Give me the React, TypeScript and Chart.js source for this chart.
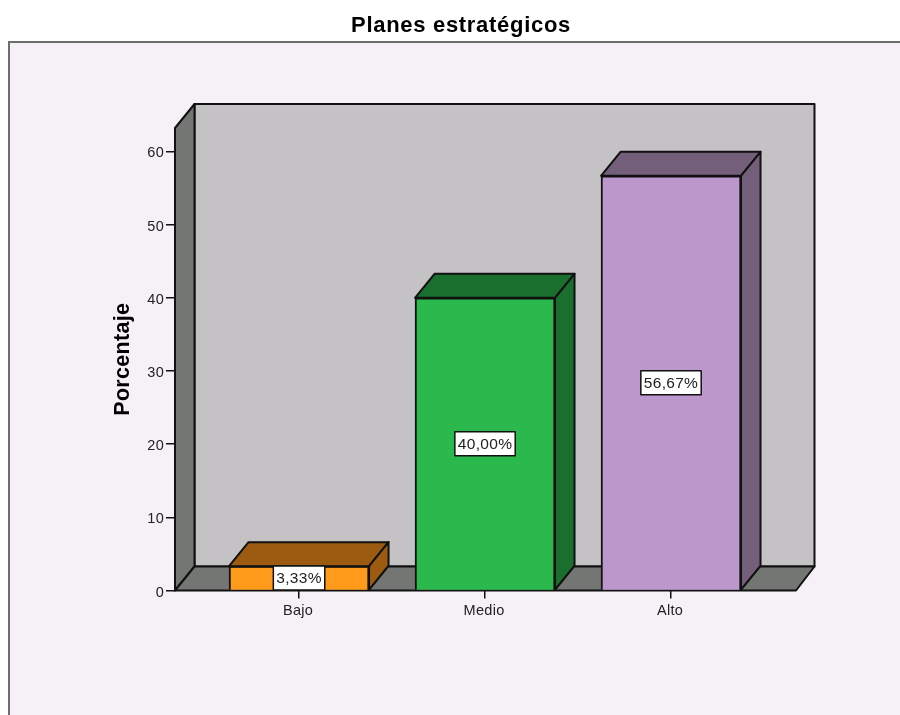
import React, { useEffect, useRef } from "react";
import { Chart, registerables } from "chart.js";

Chart.register(...registerables);

const categories = ["Bajo", "Medio", "Alto"];
const percentages = [3.33, 40.0, 56.67];
const yTicks = [0, 10, 20, 30, 40, 50, 60];
const frontColors = ["#ff9a1a", "#2bb84d", "#bc97cc"];
const shadeColors = ["#9c5b10", "#1a6e2e", "#735f7a"];

const PAGE_BG = "#f5f1f6";
const WALL_BACK = "#c4c2c5";
const WALL_SIDE = "#747673";
const LINE = "#111111";
const TEXT = "#222222";
const FONT = "'Liberation Sans', Arial, sans-serif";
const DEPTH_X = 19.5;
const DEPTH_Y = 24;

function face(ctx: CanvasRenderingContext2D, pts: number[][], fill: string) {
  ctx.beginPath();
  pts.forEach(([x, y], i) => (i ? ctx.lineTo(x, y) : ctx.moveTo(x, y)));
  ctx.closePath();
  ctx.fillStyle = fill;
  ctx.fill();
  ctx.lineJoin = "round";
  ctx.lineWidth = 2;
  ctx.strokeStyle = LINE;
  ctx.stroke();
}

// Runs one of a layout box's draw methods with wider letter spacing.
function spaced(ctx: any, box: any, method: string, spacing: string) {
  const original = box[method];
  box[method] = function (...args: any[]) {
    ctx.save();
    ctx.letterSpacing = spacing;
    original.apply(box, args);
    ctx.restore();
  };
}

const spacingPlugin = {
  id: "spacing",
  afterLayout(chart: any) {
    const { ctx, scales, titleBlock } = chart;
    spaced(ctx, titleBlock, "draw", "0.7px");
    spaced(ctx, scales.y, "drawTitle", "0.3px");
    spaced(ctx, scales.y, "drawLabels", "0.3px");
    spaced(ctx, scales.x, "drawLabels", "0.3px");
  },
};

// Panel behind the plot, with its grey outline on the top and left.
const panelPlugin = {
  id: "panel",
  beforeDraw(chart: Chart) {
    const { ctx, width, height } = chart;
    ctx.save();
    ctx.fillStyle = "#ffffff";
    ctx.fillRect(0, 0, width, height);
    ctx.fillStyle = PAGE_BG;
    ctx.fillRect(9, 42, width - 9, height - 42);
    ctx.strokeStyle = "#6e6e6e";
    ctx.lineWidth = 2;
    ctx.beginPath();
    ctx.moveTo(9, height);
    ctx.lineTo(9, 42);
    ctx.lineTo(width, 42);
    ctx.stroke();
    ctx.restore();
  },
};

// Box walls and floor of the 3D plot, placed from the chart area.
const wallsPlugin = {
  id: "walls",
  beforeDatasetsDraw(chart: Chart) {
    const { ctx, chartArea: a } = chart;
    const bx = a.left + DEPTH_X;
    const rx = a.right + DEPTH_X - 1;
    const ty = a.top - DEPTH_Y;
    const by = a.bottom - DEPTH_Y;
    ctx.save();
    face(ctx, [[bx, ty], [rx, ty], [rx, by], [bx, by]], WALL_BACK);
    face(ctx, [[a.left, a.top], [bx, ty], [bx, by], [a.left, a.bottom]], WALL_SIDE);
    face(ctx, [[a.left, a.bottom], [bx, by], [rx, by], [a.right, a.bottom]], WALL_SIDE);
    ctx.restore();
  },
};

// Top and side faces of each bar plus its boxed value label.
const barDepthPlugin = {
  id: "barDepth",
  afterDatasetsDraw(chart: Chart) {
    const ctx = chart.ctx as any;
    const meta = chart.getDatasetMeta(0);
    ctx.save();
    meta.data.forEach((bar: any, i: number) => {
      const l = bar.x - bar.width / 2;
      const r = bar.x + bar.width / 2;
      const t = bar.y;
      const b = bar.base;
      face(ctx, [[l, t], [l + DEPTH_X, t - DEPTH_Y], [r + DEPTH_X, t - DEPTH_Y], [r, t]], shadeColors[i]);
      face(ctx, [[r, t], [r + DEPTH_X, t - DEPTH_Y], [r + DEPTH_X, b - DEPTH_Y], [r, b]], shadeColors[i]);
    });
    ctx.font = `15.5px ${FONT}`;
    ctx.letterSpacing = "0.3px";
    ctx.textAlign = "center";
    ctx.textBaseline = "middle";
    meta.data.forEach((bar: any, i: number) => {
      const text = percentages[i].toFixed(2).replace(".", ",") + "%";
      const w = ctx.measureText(text).width + 6;
      const cy = (bar.y + bar.base) / 2;
      ctx.fillStyle = "#ffffff";
      ctx.fillRect(bar.x - w / 2, cy - 12, w, 24);
      ctx.strokeStyle = LINE;
      ctx.lineWidth = 1.5;
      ctx.strokeRect(bar.x - w / 2, cy - 12, w, 24);
      ctx.fillStyle = TEXT;
      ctx.fillText(text, bar.x, cy + 0.5);
    });
    ctx.restore();
  },
};

export default function App() {
  const ref = useRef<HTMLCanvasElement>(null);

  useEffect(() => {
    const chart = new Chart(ref.current as HTMLCanvasElement, {
      type: "bar",
      data: {
        datasets: [
          {
            data: percentages.map((y, x) => ({ x, y })),
            backgroundColor: frontColors,
            borderColor: LINE,
            borderWidth: 2,
            barThickness: 140,
            clip: false,
          },
        ],
      } as any,
      options: {
        responsive: false,
        animation: false,
        layout: { padding: { left: 22, right: 0, top: 0, bottom: 0 } },
        plugins: {
          legend: { display: false },
          tooltip: { enabled: false },
          title: {
            display: true,
            text: "Planes estratégicos",
            color: "#000000",
            font: { family: FONT, size: 22, weight: "bold", lineHeight: 1.2 },
            padding: { top: 12.5, bottom: 89.1 },
          },
        },
        scales: {
          x: {
            type: "linear",
            offset: false,
            min: -0.667,
            max: 2.672,
            afterBuildTicks: (axis: any) => {
              axis.ticks = categories.map((_, value) => ({ value }));
            },
            afterFit: (axis: any) => {
              axis.height = 124.5;
            },
            grid: {
              offset: false,
              drawOnChartArea: false,
              drawTicks: true,
              tickLength: 8,
              color: LINE,
              lineWidth: 1.5,
            },
            border: { display: false },
            ticks: {
              callback: (v: any) => categories[v],
              color: TEXT,
              font: { family: FONT, size: 14.5 },
              padding: 4,
              labelOffset: -1,
              maxRotation: 0,
              autoSkip: false,
            },
          },
          y: {
            min: 0,
            max: 63.21,
            afterBuildTicks: (axis: any) => {
              axis.ticks = yTicks.map((value) => ({ value }));
            },
            afterFit: (axis: any) => {
              axis.width = 153;
            },
            grid: { drawOnChartArea: false, drawTicks: true, tickLength: 9, color: LINE, lineWidth: 1.5 },
            border: { display: false },
            ticks: { color: TEXT, font: { family: FONT, size: 14.5 }, padding: 2, labelOffset: 2 },
            title: {
              display: true,
              text: "Porcentaje",
              color: "#000000",
              font: { family: FONT, size: 21.5, weight: "bold", lineHeight: 1.2 },
              padding: { top: 88.5, bottom: 0 },
            },
          },
          // Reserves the blank strip to the right of the plot.
          gutter: {
            axis: "y",
            position: "right",
            display: true,
            grid: { display: false },
            border: { display: false },
            ticks: { display: false },
            afterFit: (axis: any) => {
              axis.width = 104;
            },
          },
        },
      } as any,
      plugins: [panelPlugin, wallsPlugin, barDepthPlugin, spacingPlugin],
    });
    return () => chart.destroy();
  }, []);

  return (
    <canvas
      ref={ref}
      width={900}
      height={715}
      style={{ position: "fixed", left: 0, top: 0, display: "block" }}
    />
  );
}
